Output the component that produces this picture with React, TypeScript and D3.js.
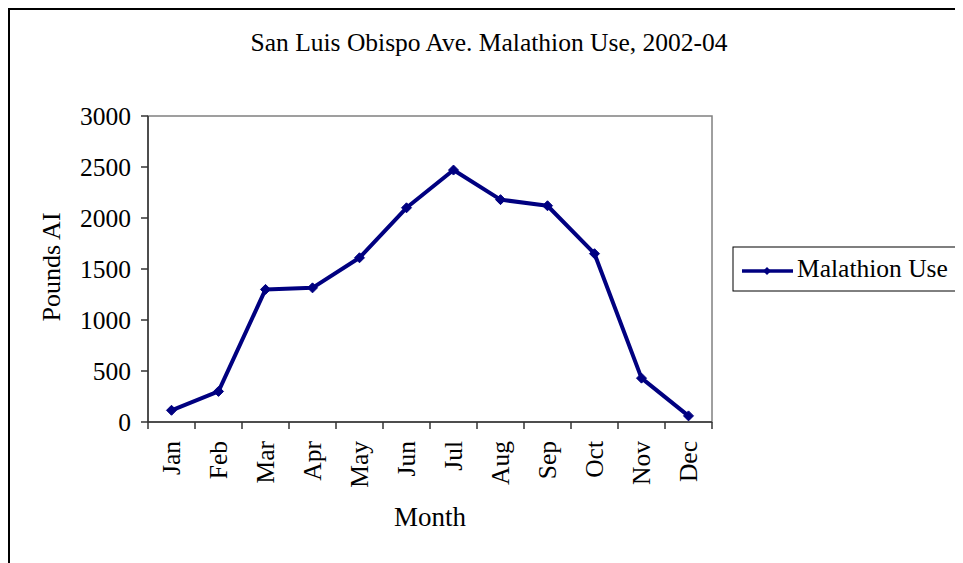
import React from "react";
import * as d3 from "d3";

const months = ["Jan", "Feb", "Mar", "Apr", "May", "Jun", "Jul", "Aug", "Sep", "Oct", "Nov", "Dec"];
const malathionUse = [115, 300, 1300, 1315, 1610, 2100, 2470, 2180, 2120, 1650, 430, 60];
const yTicks = [0, 500, 1000, 1500, 2000, 2500, 3000];

const title = "San Luis Obispo Ave. Malathion Use, 2002-04";
const seriesName = "Malathion Use";

export default function App() {
  const W = 955, H = 555;
  const ox = 8, oy = 8; // svg offset in page
  const left = 148 - ox, right = 712 - ox, top = 116 - oy, bottom = 422 - oy;
  const x = d3.scaleBand<string>().domain(months).range([left, right]);
  const y = d3.scaleLinear().domain([0, 3000]).range([bottom, top]);
  const line = d3.line<number>()
    .x((_, i) => (x(months[i]) as number) + x.bandwidth() / 2)
    .y((d) => y(d));
  const font = "'Liberation Serif', 'Times New Roman', serif";
  const navy = "#000080";
  const diamond = (cx: number, cy: number, r = 5) =>
    `M${cx},${cy - r}L${cx + r},${cy}L${cx},${cy + r}L${cx - r},${cy}Z`;

  const lgX = 733 - ox, lgY = 247 - oy, lgW = 240, lgH = 44;
  const fs = 25.5;

  return (
    <svg width={W} height={H} style={{ display: "block" }} fontFamily={font}>
      <rect x={0} y={0} width={W} height={H} fill="#fff" />
      <rect x={1} y={1} width={W + 20} height={H + 20} fill="none" stroke="#000" strokeWidth={2} />
      <text x={489 - ox} y={51 - oy} textAnchor="middle" fontSize={fs}>{title}</text>

      {/* plot area */}
      <rect x={left} y={top} width={right - left} height={bottom - top} fill="#fff" stroke="#808080" strokeWidth={1.5} />
      <line x1={left} x2={left} y1={top} y2={bottom} stroke="#333" strokeWidth={1.5} />
      <line x1={left} x2={right} y1={bottom} y2={bottom} stroke="#333" strokeWidth={1.5} />

      {yTicks.map((t) => (
        <g key={t}>
          <line x1={left - 7} x2={left} y1={y(t)} y2={y(t)} stroke="#333" strokeWidth={1.5} />
          <text x={left - 17} y={y(t)} dy="0.35em" textAnchor="end" fontSize={fs}>{t}</text>
        </g>
      ))}
      {months.concat(["_end"]).map((m, i) => {
        const xx = left + i * x.step();
        return <line key={m} x1={xx} x2={xx} y1={bottom} y2={bottom + 7} stroke="#333" strokeWidth={1.5} />;
      })}
      {months.map((m) => {
        const cx = (x(m) as number) + x.bandwidth() / 2;
        return (
          <text key={m} transform={`translate(${cx},${bottom + 19}) rotate(-90)`} dy="0.35em" textAnchor="end" fontSize={fs}>{m}</text>
        );
      })}
      <text x={430 - ox} y={526 - oy} textAnchor="middle" fontSize={27}>Month</text>
      <text transform={`translate(${60 - ox},${267 - oy}) rotate(-90)`} textAnchor="middle" fontSize={26}>Pounds AI</text>

      <path d={line(malathionUse) || ""} fill="none" stroke={navy} strokeWidth={4} strokeLinejoin="round" />
      {malathionUse.map((v, i) => (
        <path key={i} d={diamond((x(months[i]) as number) + x.bandwidth() / 2, y(v))} fill={navy} stroke={navy} strokeWidth={1} />
      ))}

      {/* legend */}
      <rect x={lgX} y={lgY} width={lgW} height={lgH} fill="#fff" stroke="#000" strokeWidth={1} />
      <line x1={lgX + 9} x2={lgX + 60} y1={lgY + 24} y2={lgY + 24} stroke={navy} strokeWidth={3.5} />
      <path d={diamond(lgX + 34, lgY + 24, 4)} fill={navy} />
      <text x={797 - ox} y={277 - oy} fontSize={25.5}>{seriesName}</text>
    </svg>
  );
}
